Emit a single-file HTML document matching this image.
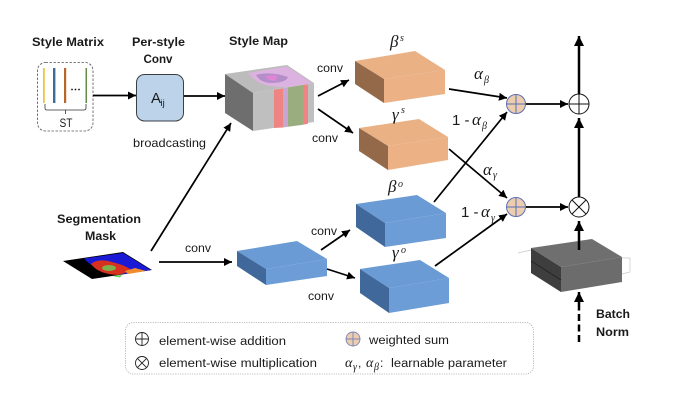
<!DOCTYPE html>
<html><head><meta charset="utf-8"><style>
html,body{margin:0;padding:0;background:#fff}
svg{display:block;filter:blur(0.3px)}
text{font-family:"Liberation Sans",sans-serif;fill:#1a1a1a;font-size:11.5px}
.b{font-weight:bold;font-size:11.5px}
.m{font-family:"Liberation Serif",serif;font-style:italic;font-size:17px}
.s{font-family:"Liberation Serif",serif;font-style:italic;font-size:10px}
.l{stroke:#000;stroke-width:1.7;fill:none}
</style></head><body>
<svg width="686" height="402" viewBox="0 0 686 402" xmlns="http://www.w3.org/2000/svg">
<defs>
<marker id="a" markerUnits="userSpaceOnUse" markerWidth="9" markerHeight="9" refX="8" refY="4" orient="auto"><path d="M0 0L8 4L0 8z" fill="#000"/></marker>
<marker id="t" markerUnits="userSpaceOnUse" markerWidth="12" markerHeight="12" refX="10" refY="5" orient="auto"><path d="M0 0L10 5L0 10z" fill="#000"/></marker>
</defs>

<!-- Style matrix -->
<text class="b" x="32" y="46" textLength="72" lengthAdjust="spacingAndGlyphs">Style Matrix</text>
<rect x="37.500" y="62.500" width="55.500" height="68.500" rx="8" fill="#fff" stroke="#555" stroke-width="0.8" stroke-dasharray="2.500 1.500"/>
<rect x="43" y="68" width="1.800" height="35" fill="#efc545"/>
<rect x="53" y="68" width="2.400" height="35" fill="#3a6c9c"/>
<rect x="64" y="68" width="2.200" height="35" fill="#b9662a"/>
<rect x="85.500" y="68" width="1.500" height="35" fill="#628c48"/>
<circle cx="72" cy="89.500" r="0.900" fill="#111"/><circle cx="75.500" cy="89.500" r="0.900" fill="#111"/><circle cx="79" cy="89.500" r="0.900" fill="#111"/>
<path d="M45 104V108Q45 110 47 110H84Q86 110 86 108V104M65.500 110V114" fill="none" stroke="#333" stroke-width="0.800"/>
<text x="59.500" y="127" style="font-size:12px" textLength="13" lengthAdjust="spacingAndGlyphs">ST</text>

<!-- Per-style conv -->
<text class="b" x="132" y="46" textLength="53" lengthAdjust="spacingAndGlyphs">Per-style</text>
<text class="b" x="143.500" y="63" textLength="29" lengthAdjust="spacingAndGlyphs">Conv</text>
<rect x="136.500" y="74.500" width="47" height="46.500" rx="8" fill="#bcd3ea" stroke="#3a3f46" stroke-width="1"/>
<text x="151" y="103" style="font-size:15px">A</text>
<text x="160.500" y="106" style="font-size:9.500px">ij</text>
<text x="133" y="147" style="font-size:12px" textLength="73" lengthAdjust="spacingAndGlyphs">broadcasting</text>

<!-- Style map -->
<text class="b" x="229" y="45" textLength="59" lengthAdjust="spacingAndGlyphs">Style Map</text>
<path d="M225 74L287 65L314 83L253 93z" fill="#bcbcbc"/>
<path d="M225 74L253 93V131L225 113z" fill="#6e6e6e"/>
<path d="M253 93L314 83V122L253 131z" fill="#bfbfbf"/>
<path d="M248 73L287 66.500L312 83L289 87Q266 88 255 80z" fill="#dcb2e0"/>
<path d="M256 75Q270 71 288 77Q286 83 270 83Q260 82 256 75z" fill="#b48ec8"/>
<path d="M265 76L277 75L276 81L269 80z" fill="#e085d4"/>
<path d="M274 89.800L283 88.400V127.500L274 128z" fill="#ee8582"/>
<path d="M283 88.400L288 87.500V126.800L283 127.500z" fill="#c6a6d2"/>
<path d="M288 87.500L303 85V124.800L288 126.800z" fill="#9aad7f"/>
<path d="M303 85L308 84.200V123.800L303 124.800z" fill="#ee8582"/>

<!-- Orange cubes -->
<path d="M355 61L415 51L445 70L384 79z" fill="#e9b184"/>
<path d="M355 61L384 79V103L355 84z" fill="#94694a"/>
<path d="M384 79L445 70V94L384 103z" fill="#ecb185"/>
<path d="M359 128L419 119L448 137L388 146z" fill="#e9b184"/>
<path d="M359 128L388 146V170L359 151z" fill="#94694a"/>
<path d="M388 146L448 137V160L388 170z" fill="#ecb185"/>

<!-- Blue cubes -->
<path d="M356 204L417 195L446 213L385 223z" fill="#6a9bd4"/>
<path d="M356 204L385 223V247L356 227z" fill="#41689a"/>
<path d="M385 223L446 213V238L385 247z" fill="#6c9dd6"/>
<path d="M360 269L420 260L449 278L389 288z" fill="#6a9bd4"/>
<path d="M360 269L389 288V313L360 293z" fill="#41689a"/>
<path d="M389 288L449 278V303L389 313z" fill="#6c9dd6"/>
<path d="M237 251L297 241L327 259L266 269z" fill="#6a9bd4"/>
<path d="M237 251L266 269V285L237 266z" fill="#41689a"/>
<path d="M266 269L327 259V276L266 285z" fill="#6c9dd6"/>

<!-- Batch norm -->
<path d="M518 253L531 250M622 258L630 258L630 272L622 274" fill="none" stroke="#c8c8c8" stroke-width="0.700"/>
<path d="M531 248L592 239L622 257L561 267z" fill="#6f6f6f"/>
<path d="M531 248L561 267V292L531 273z" fill="#3e3e3e"/>
<path d="M561 267L622 257V282L561 292z" fill="#6c6c6c"/>
<path d="M531 261L561 280" stroke="#222" stroke-width="0.800"/>

<!-- Mask -->
<text class="b" x="57" y="223" textLength="84" lengthAdjust="spacingAndGlyphs">Segmentation</text>
<text class="b" x="85" y="240" textLength="31" lengthAdjust="spacingAndGlyphs">Mask</text>
<path d="M63 261L123 252L152 270L92 279z" fill="#000"/>
<path d="M84 258.500L123 253L151 270L125 274Q95 272 84 258.500z" fill="#1a1ad6"/>
<path d="M91 264Q98 258 112 262Q128 266 132 271L118 275Q98 274 91 264z" fill="#d8301f"/>
<ellipse cx="109" cy="268" rx="7" ry="3" fill="#7fae4a"/>
<path d="M128 274L146 271L135 268L125 271z" fill="#f08c2c"/>
<path d="M112 276L122 275L120 277.500z" fill="#58d858"/>

<!-- Thin arrows -->
<path class="l" marker-end="url(#a)" d="M93 95.500H136"/>
<path class="l" marker-end="url(#a)" d="M184 96H225"/>
<path class="l" marker-end="url(#a)" d="M151 251L231 123"/>
<path class="l" marker-end="url(#a)" d="M159 262H232"/>
<path class="l" marker-end="url(#a)" d="M321 250L350 230"/>
<path class="l" marker-end="url(#a)" d="M327 269L355 278"/>
<path class="l" marker-end="url(#a)" d="M318 96L349 80"/>
<path class="l" marker-end="url(#a)" d="M318 109L353 133"/>
<path class="l" marker-end="url(#a)" d="M449 89L507 98"/>
<path class="l" marker-end="url(#a)" d="M434 202L507 112"/>
<path class="l" marker-end="url(#a)" d="M449 149L507 198"/>
<path class="l" marker-end="url(#a)" d="M435 266L507 214"/>
<path class="l" marker-end="url(#a)" d="M525 104H568"/>
<path class="l" marker-end="url(#a)" d="M526 207H568"/>

<!-- Thick arrows -->
<path d="M579 94V36" stroke="#000" stroke-width="2.500" marker-end="url(#t)" fill="none"/>
<path d="M579 197V118" stroke="#000" stroke-width="2.500" marker-end="url(#t)" fill="none"/>
<path d="M579 250V221" stroke="#000" stroke-width="2.500" marker-end="url(#t)" fill="none"/>
<path d="M579 342V299" stroke="#000" stroke-width="2.500" stroke-dasharray="7 3.500" fill="none"/>
<path d="M579 304V292" stroke="#000" stroke-width="2.500" marker-end="url(#t)" fill="none"/>

<!-- Circles -->
<g stroke="#5d70b8" stroke-width="1" fill="#eccdae">
<circle cx="516" cy="104" r="9.500"/><path d="M506.500 104H525.500M516 94.500V113.500"/>
<circle cx="516" cy="207" r="9.500"/><path d="M506.500 207H525.500M516 197.500V216.500"/>
</g>
<g stroke="#111" stroke-width="1" fill="#fff">
<circle cx="579" cy="104" r="10"/><path d="M569 104H589M579 94V114"/>
<circle cx="579" cy="207" r="10"/><path d="M572 200L586 214M586 200L572 214"/>
</g>

<!-- Labels -->
<text x="317" y="72" style="font-size:12px" textLength="26" lengthAdjust="spacingAndGlyphs">conv</text>
<text x="312" y="142" style="font-size:12px" textLength="26" lengthAdjust="spacingAndGlyphs">conv</text>
<text x="185" y="252" style="font-size:12px" textLength="26" lengthAdjust="spacingAndGlyphs">conv</text>
<text x="311" y="235" style="font-size:12px" textLength="26" lengthAdjust="spacingAndGlyphs">conv</text>
<text x="308" y="300" style="font-size:12px" textLength="26" lengthAdjust="spacingAndGlyphs">conv</text>

<text class="m" x="390" y="47">β</text><text class="s" x="400" y="41">s</text>
<text class="m" x="392" y="120">γ</text><text class="s" x="401" y="113">s</text>
<text class="m" x="388" y="192">β</text><text class="s" x="398" y="187">o</text>
<text class="m" x="392" y="258">γ</text><text class="s" x="401" y="253">o</text>
<text class="m" x="474" y="79">α</text><text class="s" x="484" y="83">β</text>
<text x="452" y="125" style="font-size:15px">1 -</text><text class="m" x="472" y="125">α</text><text class="s" x="482" y="129">β</text>
<text class="m" x="483" y="175">α</text><text class="s" x="493" y="178">γ</text>
<text x="461" y="217" style="font-size:15px">1 -</text><text class="m" x="481" y="217">α</text><text class="s" x="491" y="221">γ</text>

<text class="b" x="596" y="318" textLength="34" lengthAdjust="spacingAndGlyphs">Batch</text>
<text class="b" x="596" y="336" textLength="33" lengthAdjust="spacingAndGlyphs">Norm</text>

<!-- Legend -->
<rect x="125.500" y="322.500" width="408" height="51.500" rx="8" fill="#fff" stroke="#aaa" stroke-width="0.800" stroke-dasharray="1.200 1.200"/>
<g stroke="#222" stroke-width="0.900" fill="none">
<circle cx="142" cy="339" r="6.500"/><path d="M135.500 339H148.500M142 332.500V345.500"/>
<circle cx="142" cy="363" r="6.500"/><path d="M137.400 358.400L146.600 367.600M146.600 358.400L137.400 367.600"/>
</g>
<g stroke="#7a84bb" stroke-width="0.900" fill="#eccdae">
<circle cx="353" cy="339" r="7"/><path d="M346 339H360M353 332V346"/>
</g>
<text x="159" y="345" textLength="127" lengthAdjust="spacingAndGlyphs">element-wise addition</text>
<text x="159" y="367" textLength="158" lengthAdjust="spacingAndGlyphs">element-wise multiplication</text>
<text x="369" y="344" textLength="80" lengthAdjust="spacingAndGlyphs">weighted sum</text>
<text class="m" x="345" y="367" style="font-size:14px">α</text><text class="s" x="353" y="370">γ</text>
<text x="358" y="367" style="font-size:12px">,</text>
<text class="m" x="366" y="367" style="font-size:14px">α</text><text class="s" x="374" y="370">β</text>
<text x="380" y="367" style="font-size:12px">:</text>
<text x="391" y="367" textLength="116" lengthAdjust="spacingAndGlyphs">learnable parameter</text>
</svg>
</body></html>
